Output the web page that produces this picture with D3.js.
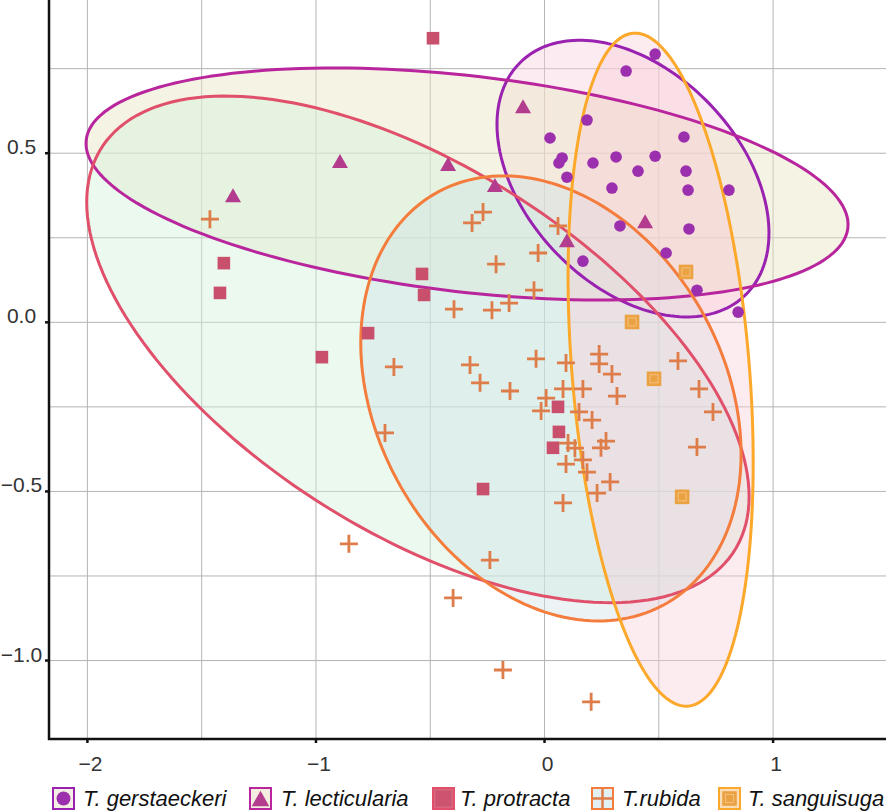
<!DOCTYPE html>
<html><head><meta charset="utf-8">
<script src="https://cdn.jsdelivr.net/npm/d3@7"></script>
<style>html,body{margin:0;padding:0;background:#fff;}svg{display:block;}</style>
</head><body>
<script>
// ---------- DATA ----------
const species = ["T. gerstaeckeri","T. lecticularia","T. protracta","T.rubida","T. sanguisuga"];
const xTicks = [-2,-1,0,1];
const yTicks = [-1.0,-0.5,0.0,0.5];
const xGrid = [-2,-1.5,-1,-0.5,0,0.5,1];
const yGrid = [-1.0,-0.75,-0.5,-0.25,0,0.25,0.5,0.75];

const gerstaeckeri = [[0.484,0.793],[0.357,0.743],[0.186,0.598],[0.024,0.545],[0.610,0.548],[0.313,0.489],[0.484,0.491],[0.077,0.486],[0.063,0.471],[0.212,0.471],[0.098,0.429],[0.409,0.447],[0.619,0.447],[0.295,0.397],[0.628,0.391],[0.807,0.391],[0.330,0.285],[0.632,0.276],[0.532,0.205],[0.168,0.181],[0.667,0.095],[0.847,0.030]];
const lecticularia = [[-1.363,0.376],[-0.895,0.477],[-0.422,0.468],[-0.094,0.639],[-0.217,0.406],[0.098,0.243],[0.440,0.299]];
const protracta = [[-0.488,0.840],[-1.403,0.175],[-1.420,0.087],[-0.536,0.143],[-0.527,0.081],[-0.772,-0.032],[-0.974,-0.103],[0.059,-0.250],[0.063,-0.324],[0.037,-0.371],[-0.269,-0.493]];
const rubida = [[-1.464,0.305],[-0.269,0.326],[-0.317,0.294],[0.059,0.285],[-0.028,0.205],[-0.212,0.172],[-0.046,0.095],[-0.396,0.039],[-0.230,0.036],[-0.155,0.057],[-0.659,-0.132],[-0.326,-0.126],[-0.282,-0.179],[-0.151,-0.203],[-0.698,-0.327],[-0.037,-0.108],[0.094,-0.120],[0.239,-0.094],[0.239,-0.123],[0.295,-0.153],[0.081,-0.197],[0.168,-0.197],[0.317,-0.218],[0.007,-0.224],[-0.015,-0.262],[0.151,-0.265],[0.208,-0.289],[0.269,-0.351],[0.247,-0.371],[0.103,-0.357],[0.133,-0.372],[0.094,-0.419],[0.168,-0.407],[0.186,-0.443],[0.287,-0.472],[0.230,-0.505],[0.081,-0.534],[0.584,-0.114],[0.676,-0.197],[0.737,-0.265],[0.667,-0.369],[-0.856,-0.655],[-0.239,-0.703],[-0.400,-0.815],[-0.182,-1.028],[0.204,-1.122]];
const sanguisuga = [[0.619,0.149],[0.383,0.001],[0.479,-0.167],[0.602,-0.516]];

// ellipse summaries per species: centre, half-extent in x and y, correlation
const ellCx  = [0.387,-0.339,-0.554,0.028,0.508];
const ellCy  = [0.425, 0.409,-0.080,-0.225,-0.140];
const ellSx  = [0.595, 1.667, 1.449, 0.832, 0.405];
const ellSy  = [0.409, 0.343, 0.749, 0.658, 0.995];
const ellRho = [-0.392,-0.35,-0.581,-0.25,-0.276];

// ---------- STYLE ----------
const strokeCol = ["#9a22b0","#b8259c","#e0506a","#f47c3c","#fca82a"];
const fillCol   = ["#f9cfdc","#e9e6c4","#d2f1db","#cfe3e8","#f7cdd6"];
const fillOp    = [0.42,0.45,0.45,0.42,0.4];
const markCol   = ["#9c2fad","#b33c8e","#c9506c","#de7d4a","#eba243"];

const W=886,H=812;
const x = d3.scaleLinear().domain([-2.168,1.494]).range([49,886]);
const y = d3.scaleLinear().domain([-1.232,0.953]).range([739,0]);

const svg = d3.select("body").append("svg").attr("width",W).attr("height",H)
  .style("font-family","'Liberation Sans',Arial,Helvetica,sans-serif");

svg.append("defs").append("clipPath").attr("id","clip")
  .append("rect").attr("x",49).attr("y",0).attr("width",W-49).attr("height",739);

// grid
const g = svg.append("g");
g.selectAll(".gx").data(xGrid).join("line")
  .attr("x1",d=>x(d)).attr("x2",d=>x(d)).attr("y1",0).attr("y2",739)
  .attr("stroke","#b4b4b4").attr("stroke-width",1);
g.selectAll(".gy").data(yGrid).join("line")
  .attr("y1",d=>y(d)).attr("y2",d=>y(d)).attr("x1",49).attr("x2",W)
  .attr("stroke","#b4b4b4").attr("stroke-width",1);

const plot = svg.append("g").attr("clip-path","url(#clip)");

// ellipses
const ts = d3.range(0,361,2).map(t=>t*Math.PI/180);
const ellPts = i => ts.map(t=>{
  const px = ellCx[i] + ellSx[i]*Math.cos(t);
  const py = ellCy[i] + ellSy[i]*(ellRho[i]*Math.cos(t) + Math.sqrt(1-ellRho[i]*ellRho[i])*Math.sin(t));
  return [x(px),y(py)];
});
const line = d3.line().curve(d3.curveLinearClosed);
species.forEach((s,i)=>{
  plot.append("path").attr("d",line(ellPts(i)))
    .attr("fill",fillCol[i]).attr("fill-opacity",fillOp[i]).attr("stroke","none");
});
species.forEach((s,i)=>{
  plot.append("path").attr("d",line(ellPts(i)))
    .attr("fill","none").attr("stroke",strokeCol[i]).attr("stroke-width",3);
});

// markers
function marker(sel,i,cx,cy,scale){
  scale = scale||1;
  if(i===0){ sel.append("circle").attr("cx",cx).attr("cy",cy).attr("r",5.8*scale).attr("fill",markCol[0]); }
  else if(i===1){ const s=8*scale; sel.append("path").attr("d",`M${cx},${cy-7*scale}L${cx+s},${cy+7*scale}L${cx-s},${cy+7*scale}Z`).attr("fill",markCol[1]); }
  else if(i===2){ const s=6.3*scale; sel.append("rect").attr("x",cx-s).attr("y",cy-s).attr("width",2*s).attr("height",2*s).attr("fill",markCol[2]); }
  else if(i===3){ const s=9*scale; sel.append("path").attr("d",`M${cx-s},${cy}H${cx+s}M${cx},${cy-s}V${cy+s}`).attr("stroke",markCol[3]).attr("stroke-width",2.8).attr("fill","none"); }
  else { const s=7.3*scale; sel.append("rect").attr("x",cx-s).attr("y",cy-s).attr("width",2*s).attr("height",2*s).attr("fill",markCol[4]);
    sel.append("rect").attr("x",cx-s*0.55).attr("y",cy-s*0.55).attr("width",s*1.1).attr("height",s*1.1).attr("fill","none").attr("stroke","#f6c88a").attr("stroke-width",0.8); }
}
const sets = [gerstaeckeri,lecticularia,protracta,rubida,sanguisuga];
sets.forEach((arr,i)=>{
  const gg = plot.append("g");
  arr.forEach(d=>marker(gg,i,x(d[0]),y(d[1])));
});

// axes
svg.append("line").attr("x1",49).attr("x2",49).attr("y1",0).attr("y2",740).attr("stroke","#111").attr("stroke-width",2.5);
svg.append("line").attr("x1",48).attr("x2",W).attr("y1",739).attr("y2",739).attr("stroke","#111").attr("stroke-width",2.5);
svg.selectAll(".tx").data(xTicks).join("line").attr("x1",d=>x(d)).attr("x2",d=>x(d)).attr("y1",739).attr("y2",743).attr("stroke","#111").attr("stroke-width",2.5);
svg.selectAll(".ty").data(yTicks).join("line").attr("y1",d=>y(d)).attr("y2",d=>y(d)).attr("x1",45).attr("x2",49).attr("stroke","#111").attr("stroke-width",2.5);
const fmtX = d=>(d<0?"\u2212":"")+Math.abs(d);
const fmtY = d=>(d<0?"\u2212":"")+Math.abs(d).toFixed(1);
svg.selectAll(".lx").data(xTicks).join("text").attr("x",d=>x(d)+3).attr("y",771)
  .attr("text-anchor","middle").attr("font-size",21).attr("fill","#333").text(fmtX);
svg.selectAll(".ly").data(yTicks).join("text").attr("x",21.5).attr("y",d=>y(d)+1)
  .attr("text-anchor","middle").attr("font-size",21).attr("fill","#333").text(fmtY);

// legend
const boxX = [52,249,432,591,718];
const txtX = [83,281,460,622,748];
const boxBg = ["#f4efe4","#f3eee0","#d9667c","#e2f0f4","#f9ddb8"];
species.forEach((s,i)=>{
  const lg = svg.append("g");
  lg.append("rect").attr("x",boxX[i]+1).attr("y",788).attr("width",21).attr("height",21)
    .attr("fill",boxBg[i]).attr("stroke",strokeCol[i]).attr("stroke-width",2);
  const cx=boxX[i]+11.5, cy=798.5;
  if(i===3){ lg.append("path").attr("d",`M${cx-10},${cy}H${cx+10}M${cx},${cy-10}V${cy+10}`).attr("stroke",markCol[3]).attr("stroke-width",2.5); }
  else if(i===2){ lg.append("rect").attr("x",cx-8).attr("y",cy-8).attr("width",16).attr("height",16).attr("fill","#cc5470"); }
  else marker(lg,i,cx,cy,i===1?1.1:(i===4?1.0:1.2));
  lg.append("text").attr("x",txtX[i]).attr("y",806).attr("font-size",22).attr("font-style","italic")
    .attr("fill","#111").text(s);
});
</script>
</body></html>
